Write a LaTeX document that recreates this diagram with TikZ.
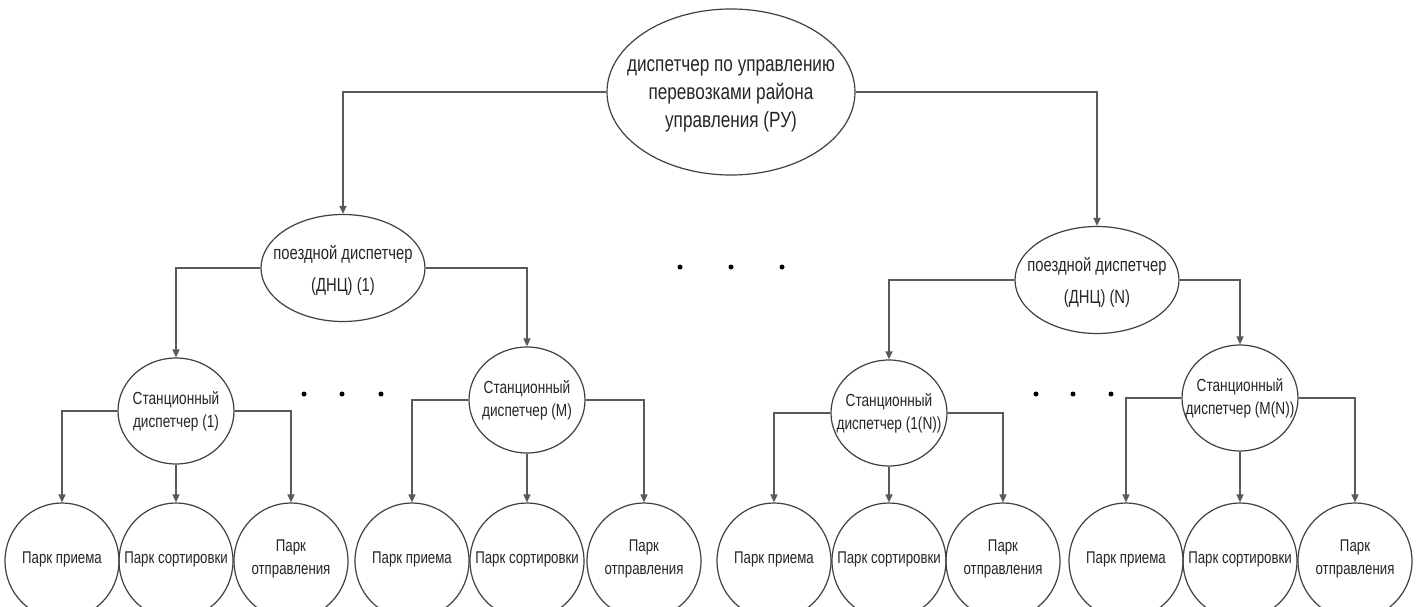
\documentclass[tikz,border=0pt]{standalone}
\usepackage{fontspec}
\setmainfont{Liberation Sans}
\newfontfamily\cf[FakeStretch=0.78]{Liberation Sans}
\usetikzlibrary{shapes.geometric,arrows.meta}
\begin{document}
\begin{tikzpicture}[x=1pt,y=1pt,
 box/.style={ellipse,draw=black!75,line width=1.2pt,inner sep=0pt},
 tx/.style={align=center,text=black!85,inner sep=0pt},
 topbox/.style={box,minimum width=248pt,minimum height=166pt},
 toptx/.style={tx,yshift=-4pt,font=\cf\fontsize{22}{28}\selectfont},
 dnc/.style={box,minimum width=164pt,minimum height=107pt},
 dnctx/.style={tx,yshift=-2pt,font=\cf\fontsize{19}{32}\selectfont},
 stn/.style={box,minimum width=116pt,minimum height=106pt},
 stntx/.style={tx,font=\cf\fontsize{17.5}{23}\selectfont},
 park/.style={box,minimum width=114pt,minimum height=116pt},
 parktx/.style={tx,yshift=2pt,font=\cf\fontsize{17}{23}\selectfont},
 conn/.style={draw=black!65,line width=1.5pt,-{Triangle[length=8pt,width=7pt]}},
 dot/.style={circle,fill=black,inner sep=0pt,minimum size=5pt}]
\useasboundingbox (0,0) rectangle (1417,-607);
\clip (0,0) rectangle (1417,-607);
\fill[white] (0,0) rectangle (1417,-607);

\node[topbox,label={[toptx]center:{диспетчер по управлению\\перевозками района\\управления (РУ)}}] (top) at (731,-92) {};
\node[dnc,label={[dnctx]center:{поездной диспетчер\\(ДНЦ) (1)}}] (d1) at (343,-268) {};
\node[dnc,label={[dnctx]center:{поездной диспетчер\\(ДНЦ) (N)}}] (dN) at (1097,-280) {};

\node[stn,label={[stntx]center:{Станционный\\диспетчер (1)}}] (s1) at (176,-411) {};
\node[stn,label={[stntx]center:{Станционный\\диспетчер (M)}}] (sM) at (527,-400) {};
\node[stn,label={[stntx]center:{Станционный\\диспетчер (1(N))}}] (s1N) at (889,-413) {};
\node[stn,label={[stntx]center:{Станционный\\диспетчер (M(N))}}] (sMN) at (1240,-398) {};

\foreach \g/\a/\b/\c in {1/62/176/291, 2/412/527/644, 3/774/889/1003, 4/1126/1240/1355}{
  \node[park,label={[parktx]center:{Парк приема}}] (p\g a) at (\a,-561) {};
  \node[park,label={[parktx]center:{Парк сортировки}}] (p\g b) at (\b,-561) {};
  \node[park,label={[parktx]center:{Парк\\отправления}}] (p\g c) at (\c,-561) {};
}

\draw[conn] (top.west) -| (d1.north);
\draw[conn] (top.east) -| (dN.north);
\draw[conn] (d1.west) -| (s1.north);
\draw[conn] (d1.east) -| (sM.north);
\draw[conn] (dN.west) -| (s1N.north);
\draw[conn] (dN.east) -| (sMN.north);

\foreach \s/\g in {s1/1, sM/2, s1N/3, sMN/4}{
  \draw[conn] (\s.west) -| (p\g a.north);
  \draw[conn] (\s.south) -- (p\g b.north);
  \draw[conn] (\s.east) -| (p\g c.north);
}

\node[dot] (u1) at (680,-267) {};
\node[dot] (u2) at (731,-267) {};
\node[dot] (u3) at (782,-267) {};
\node[dot] (l1) at (304,-394) {};
\node[dot] (l2) at (342,-394) {};
\node[dot] (l3) at (381,-394) {};
\node[dot] (r1) at (1036,-394) {};
\node[dot] (r2) at (1073,-394) {};
\node[dot] (r3) at (1111,-394) {};
\end{tikzpicture}
\end{document}
